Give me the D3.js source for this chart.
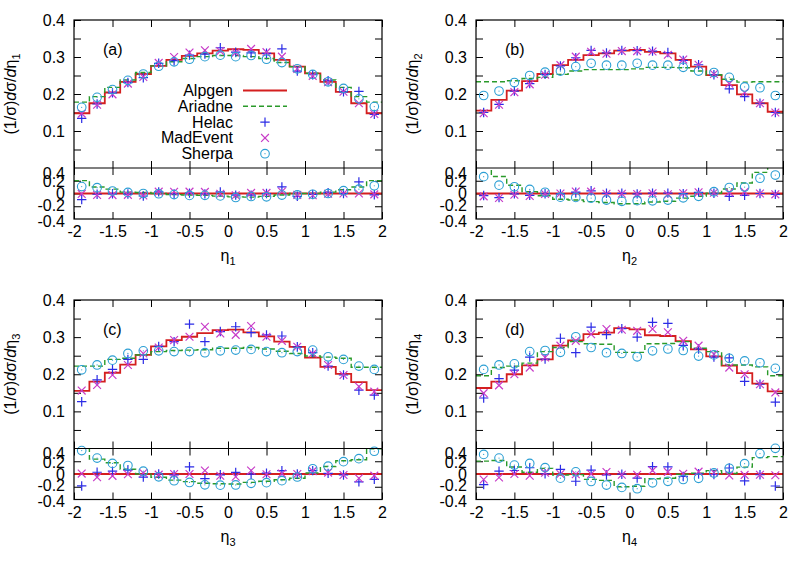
<!DOCTYPE html>
<html><head><meta charset="utf-8">
<script src="https://cdn.jsdelivr.net/npm/d3@7"></script>
<style>
body{margin:0;background:#fff}
text{font-family:"Liberation Sans",Arial,Helvetica,sans-serif;font-size:16px;fill:#000}
</style>
</head><body>
<svg id="chart" width="802" height="562"></svg>
<script>
// ---------- data ----------
const binEdges   = [-2,-1.8,-1.6,-1.4,-1.2,-1,-0.8,-0.6,-0.4,-0.2,0,0.2,0.4,0.6,0.8,1,1.2,1.4,1.6,1.8,2];
const binCenters = [-1.9,-1.7,-1.5,-1.3,-1.1,-0.9,-0.7,-0.5,-0.3,-0.1,0.1,0.3,0.5,0.7,0.9,1.1,1.3,1.5,1.7,1.9];
const xTicks = [-2,-1.5,-1,-0.5,0,0.5,1,1.5,2];
const xTickLabels = ["-2","-1.5","-1","-0.5","0","0.5","1","1.5","2"];
const mainYTicks = [0.05,0.1,0.15,0.2,0.25,0.3,0.35,0.4];
const mainYLabels = ["","0.1","","0.2","","0.3","","0.4"];
const ratioYTicks = [0.4,0.2,0,-0.2,-0.4];
const ratioYLabels = ["0.4","0.2","0","-0.2","-0.4"];
const seriesNames = ["Alpgen","Ariadne","Helac","MadEvent","Sherpa"];
const panelLabels = ["(a)","(b)","(c)","(d)"];
const etaSubs = ["1","2","3","4"];

const alpgenA   = [0.148,0.175,0.204,0.233,0.254,0.276,0.292,0.303,0.310,0.317,0.321,0.319,0.310,0.292,0.274,0.256,0.233,0.206,0.175,0.148];
const ariadneA  = [0.178,0.193,0.218,0.238,0.258,0.276,0.287,0.296,0.301,0.304,0.304,0.301,0.296,0.285,0.274,0.256,0.238,0.218,0.193,0.178];
const helacA    = [0.134,0.173,0.203,0.231,0.244,0.283,0.290,0.305,0.308,0.325,0.313,0.311,0.310,0.322,0.262,0.252,0.236,0.206,0.207,0.145];
const madeventA = [0.147,0.171,0.199,0.228,0.246,0.284,0.300,0.312,0.318,0.316,0.312,0.322,0.313,0.301,0.268,0.249,0.232,0.206,0.175,0.146];
const sherpaA   = [0.164,0.191,0.212,0.237,0.254,0.275,0.287,0.294,0.301,0.305,0.301,0.304,0.294,0.285,0.268,0.253,0.233,0.215,0.187,0.166];

const alpgenB   = [0.155,0.184,0.209,0.235,0.254,0.278,0.292,0.305,0.310,0.317,0.319,0.314,0.310,0.292,0.274,0.251,0.224,0.199,0.175,0.152];
const ariadneB  = [0.233,0.233,0.236,0.242,0.245,0.253,0.262,0.266,0.266,0.266,0.268,0.272,0.272,0.271,0.262,0.252,0.240,0.232,0.233,0.233];
const helacB    = [0.150,0.172,0.208,0.228,0.253,0.276,0.298,0.318,0.311,0.318,0.317,0.316,0.312,0.291,0.279,0.252,0.214,0.193,0.175,0.150];
const madeventB = [0.148,0.171,0.205,0.226,0.252,0.278,0.301,0.314,0.309,0.316,0.316,0.315,0.306,0.293,0.279,0.254,0.228,0.204,0.175,0.150];
const sherpaB   = [0.196,0.208,0.231,0.250,0.259,0.262,0.274,0.283,0.278,0.278,0.283,0.278,0.278,0.272,0.262,0.258,0.245,0.219,0.217,0.196];

const alpgenC   = [0.155,0.180,0.204,0.226,0.252,0.275,0.292,0.301,0.311,0.319,0.320,0.313,0.302,0.288,0.274,0.245,0.220,0.201,0.179,0.157];
const ariadneC  = [0.222,0.222,0.240,0.243,0.252,0.261,0.264,0.265,0.266,0.270,0.270,0.272,0.268,0.262,0.256,0.249,0.246,0.243,0.219,0.219];
const helacC    = [0.126,0.185,0.213,0.240,0.240,0.275,0.288,0.335,0.288,0.315,0.328,0.312,0.306,0.303,0.274,0.258,0.222,0.198,0.157,0.144];
const madeventC = [0.156,0.171,0.198,0.225,0.256,0.272,0.292,0.301,0.328,0.310,0.306,0.330,0.301,0.290,0.274,0.256,0.225,0.198,0.167,0.153];
const sherpaC   = [0.212,0.225,0.238,0.256,0.263,0.263,0.261,0.261,0.258,0.263,0.265,0.267,0.261,0.258,0.261,0.265,0.247,0.240,0.222,0.213];

const alpgenD   = [0.163,0.180,0.200,0.224,0.240,0.277,0.291,0.308,0.312,0.324,0.321,0.305,0.303,0.289,0.267,0.248,0.223,0.203,0.175,0.154];
const ariadneD  = [0.196,0.218,0.222,0.230,0.261,0.272,0.288,0.282,0.281,0.259,0.259,0.282,0.283,0.288,0.270,0.261,0.225,0.225,0.220,0.196];
const helacD    = [0.136,0.188,0.211,0.246,0.241,0.297,0.258,0.327,0.307,0.323,0.300,0.340,0.337,0.278,0.268,0.246,0.244,0.181,0.173,0.125];
const madeventD = [0.149,0.170,0.200,0.218,0.245,0.277,0.290,0.308,0.322,0.320,0.317,0.322,0.313,0.290,0.277,0.254,0.218,0.200,0.173,0.151];
const sherpaD   = [0.213,0.225,0.228,0.261,0.264,0.259,0.301,0.272,0.258,0.256,0.247,0.263,0.268,0.264,0.249,0.252,0.243,0.236,0.231,0.216];

// ---------- styles / layout ----------
const colors = {Alpgen:"#d41f1f", Ariadne:"#2a9a2a", Helac:"#2b2be6", MadEvent:"#c83cc8", Sherpa:"#2c9fd4"};

const panelData = [
  [alpgenA, ariadneA, helacA, madeventA, sherpaA],
  [alpgenB, ariadneB, helacB, madeventB, sherpaB],
  [alpgenC, ariadneC, helacC, madeventC, sherpaC],
  [alpgenD, ariadneD, helacD, madeventD, sherpaD]
];
const layout = [
  {left:74,  right:382, top:20,  mid:168,   bottom:219},
  {left:476, right:783, top:20,  mid:168,   bottom:219},
  {left:74,  right:382, top:300, mid:448.5, bottom:499.5},
  {left:476, right:783, top:300, mid:448.5, bottom:499.5}
];

const svg = d3.select("#chart");
const TICK = 7;

function symbol(g, type, x, y, color) {
  if (type === "Helac") {
    g.append("path").attr("d", `M${x-4.7},${y}H${x+4.7}M${x},${y-4.7}V${y+4.7}`)
      .attr("stroke", color).attr("stroke-width", 1.2).attr("fill", "none");
  } else if (type === "MadEvent") {
    g.append("path").attr("d", `M${x-3.9},${y-3.9}L${x+3.9},${y+3.9}M${x-3.9},${y+3.9}L${x+3.9},${y-3.9}`)
      .attr("stroke", color).attr("stroke-width", 1.2).attr("fill", "none");
  } else {
    g.append("circle").attr("cx", x).attr("cy", y).attr("r", 4.3)
      .attr("stroke", color).attr("stroke-width", 1.1).attr("fill", "none");
    g.append("circle").attr("cx", x).attr("cy", y).attr("r", 0.6).attr("fill", color);
  }
}

panelData.forEach((series, p) => {
  const L = layout[p];
  const g = svg.append("g");
  const x = d3.scaleLinear().domain([-2, 2]).range([L.left, L.right]);
  const yM = d3.scaleLinear().domain([0, 0.4]).range([L.mid, L.top]);
  const yR = d3.scaleLinear().domain([-0.4, 0.4]).range([L.bottom, L.mid]);

  const clipM = "clipM" + p, clipR = "clipR" + p;
  const defs = svg.append("defs");
  defs.append("clipPath").attr("id", clipM).append("rect")
    .attr("x", L.left).attr("y", L.top).attr("width", L.right - L.left).attr("height", L.mid - L.top);
  defs.append("clipPath").attr("id", clipR).append("rect")
    .attr("x", L.left).attr("y", L.mid).attr("width", L.right - L.left).attr("height", L.bottom - L.mid);

  const alp = series[0];
  const ratio = series.map(s => s.map((v, i) => v / alp[i] - 1));

  // ----- axes (inward ticks) -----
  g.append("g").attr("transform", `translate(${L.left},0)`)
    .call(d3.axisLeft(yM).tickValues(mainYTicks).tickSize(-TICK).tickPadding(9)
      .tickFormat((d, i) => mainYLabels[i]));
  g.append("g").attr("transform", `translate(${L.right},0)`)
    .call(d3.axisRight(yM).tickValues(mainYTicks).tickSize(-TICK).tickFormat(""));
  g.append("g").attr("transform", `translate(0,${L.top})`)
    .call(d3.axisTop(x).tickValues(xTicks).tickSize(-TICK).tickFormat(""));
  g.append("g").attr("transform", `translate(0,${L.mid})`)
    .call(d3.axisBottom(x).tickValues(xTicks).tickSize(-TICK).tickFormat(""));

  const ratioOffsets = [5, 1, 0, -1, 2];
  const axR = g.append("g").attr("transform", `translate(${L.left},0)`)
    .call(d3.axisLeft(yR).tickValues(ratioYTicks).tickSize(-TICK).tickPadding(9)
      .tickFormat((d, i) => ratioYLabels[i]));
  axR.selectAll(".tick line").filter(d => Math.abs(d) > 0.3).remove();
  axR.selectAll(".tick text").attr("transform", (d, i) => `translate(0,${ratioOffsets[i]})`);
  const axR2 = g.append("g").attr("transform", `translate(${L.right},0)`)
    .call(d3.axisRight(yR).tickValues(ratioYTicks).tickSize(-TICK).tickFormat(""));
  axR2.selectAll(".tick line").filter(d => Math.abs(d) > 0.3).remove();
  g.append("g").attr("transform", `translate(0,${L.mid})`)
    .call(d3.axisTop(x).tickValues(xTicks).tickSize(-TICK).tickFormat(""));
  g.append("g").attr("transform", `translate(0,${L.bottom})`)
    .call(d3.axisBottom(x).tickValues(xTicks).tickSize(-TICK).tickPadding(7)
      .tickFormat((d, i) => xTickLabels[i]));

  g.selectAll(".domain").remove();
  g.selectAll(".tick line").attr("stroke", "#000").attr("stroke-width", 1);
  g.selectAll(".tick text").style("font-size", "16px").style("font-family", '"Liberation Sans", Arial, sans-serif').attr("fill", "#000");

  // ----- step lines -----
  const stepPts = vals => binEdges.map((e, i) => [e, vals[Math.min(i, vals.length - 1)]]);
  const lineM = d3.line().x(d => x(d[0])).y(d => yM(d[1])).curve(d3.curveStepAfter);
  const lineR = d3.line().x(d => x(d[0])).y(d => yR(d[1])).curve(d3.curveStepAfter);

  // main
  const gm = g.append("g").attr("clip-path", `url(#${clipM})`);
  gm.append("path").attr("d", lineM(stepPts(series[0]))).attr("fill", "none")
    .attr("stroke", colors.Alpgen).attr("stroke-width", 1.8);
  gm.append("path").attr("d", lineM(stepPts(series[1]))).attr("fill", "none")
    .attr("stroke", colors.Ariadne).attr("stroke-width", 1.4).attr("stroke-dasharray", "5,3");
  // ratio
  const gr = g.append("g").attr("clip-path", `url(#${clipR})`);
  gr.append("path").attr("d", lineR(stepPts(ratio[0]))).attr("fill", "none")
    .attr("stroke", colors.Alpgen).attr("stroke-width", 1.8);
  gr.append("path").attr("d", lineR(stepPts(ratio[1]))).attr("fill", "none")
    .attr("stroke", colors.Ariadne).attr("stroke-width", 1.4).attr("stroke-dasharray", "5,3");

  // points
  [2, 3, 4].forEach(k => {
    const name = seriesNames[k];
    binCenters.forEach((c, i) => {
      symbol(g, name, x(c), yM(series[k][i]), colors[name]);
      symbol(g, name, x(c), yR(ratio[k][i]), colors[name]);
    });
  });

  // borders
  g.append("rect").attr("x", L.left).attr("y", L.top).attr("width", L.right - L.left)
    .attr("height", L.bottom - L.top).attr("fill", "none").attr("stroke", "#000").attr("stroke-width", 1.2);
  g.append("line").attr("x1", L.left).attr("x2", L.right).attr("y1", L.mid).attr("y2", L.mid)
    .attr("stroke", "#000").attr("stroke-width", 1.2);

  // panel label
  g.append("text").attr("x", L.left + 29).attr("y", L.top + 35).text(panelLabels[p]);

  // x axis title
  const xt = g.append("text").attr("x", (L.left + L.right) / 2).attr("y", L.bottom + 42)
    .attr("text-anchor", "middle");
  xt.append("tspan").text("η");
  xt.append("tspan").attr("dy", 4).style("font-size", "11px").text(etaSubs[p]);

  // y axis title
  const yt = g.append("text")
    .attr("transform", `translate(${L.left - 58},${(L.top + L.mid) / 2}) rotate(-90)`)
    .attr("text-anchor", "middle");
  yt.append("tspan").text("(1/σ)");
  yt.append("tspan").style("font-style", "italic").text("d");
  yt.append("tspan").text("σ/");
  yt.append("tspan").style("font-style", "italic").text("d");
  yt.append("tspan").text("η");
  yt.append("tspan").attr("dy", 4).style("font-size", "11px").text(etaSubs[p]);

  // legend (panel a only)
  if (p === 0) {
    const lg = g.append("g");
    seriesNames.forEach((name, i) => {
      const by = L.top + 76 + i * 15.8;
      lg.append("text").attr("x", L.left + 159).attr("y", by).attr("text-anchor", "end").text(name);
      const cy = by - 5.5;
      if (i === 0) {
        lg.append("line").attr("x1", L.left + 169).attr("x2", L.left + 213).attr("y1", cy).attr("y2", cy)
          .attr("stroke", colors.Alpgen).attr("stroke-width", 1.8);
      } else if (i === 1) {
        lg.append("line").attr("x1", L.left + 169).attr("x2", L.left + 213).attr("y1", cy).attr("y2", cy)
          .attr("stroke", colors.Ariadne).attr("stroke-width", 1.4).attr("stroke-dasharray", "5,3");
      } else {
        symbol(lg, name, L.left + 191, cy, colors[name]);
      }
    });
  }
});
</script>
</body></html>
